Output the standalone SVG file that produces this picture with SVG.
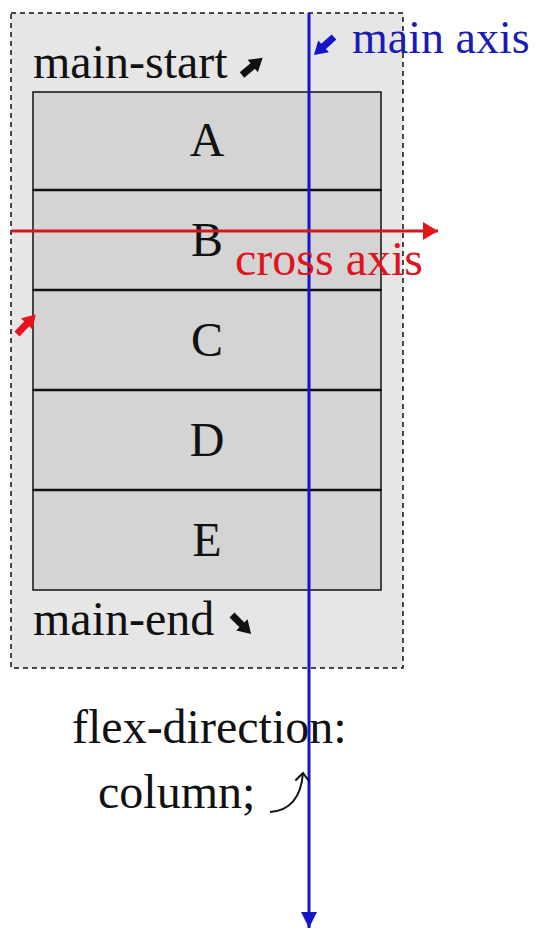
<svg xmlns="http://www.w3.org/2000/svg" width="541" height="932" viewBox="0 0 541 932">
  <style>
    .t { font-family: "Liberation Serif", "Times New Roman", serif; font-size: 48px; fill: #111; }
    .item { fill: #d4d4d4; stroke: #111; stroke-width: 1.5; }
    .sep { stroke: #111; stroke-width: 2.5; }
    .letter { text-anchor: middle; }
  </style>
  <defs>
    <marker id="blueHead" markerWidth="20" markerHeight="16" refX="16" refY="8" orient="auto" markerUnits="userSpaceOnUse">
      <path d="M0,0 L16,8 L0,16 Z" fill="#1414c8"/>
    </marker>
    <marker id="redHead" markerWidth="20" markerHeight="20" refX="15" refY="10" orient="auto" markerUnits="userSpaceOnUse">
      <path d="M0,1 L15,10 L0,19 Z" fill="#e8141c"/>
    </marker>
    <marker id="openHead" markerWidth="20" markerHeight="20" refX="10" refY="10" orient="auto" markerUnits="userSpaceOnUse">
      <path d="M2,3 L10,10 L2,17" fill="none" stroke="#111" stroke-width="2"/>
    </marker>
    <path id="icon" d="M0,-3.5 L14,-3.5 L14,-8 L27,0 L14,8 L14,3.5 L0,3.5 Z"/>
  </defs>

  <rect width="541" height="932" fill="#ffffff"/>

  <g id="container">
    <rect x="11" y="13" width="392" height="655" fill="#e6e6e6" stroke="#111" stroke-width="1.5" stroke-dasharray="5,4"/>
  </g>

  <g id="item-A">
    <rect class="item" x="33" y="92" width="348" height="98"/>
    <text class="t letter" x="207" y="156">A</text>
  </g>
  <g id="item-B">
    <rect class="item" x="33" y="190" width="348" height="100"/>
    <text class="t letter" x="207" y="256">B</text>
  </g>
  <g id="item-C">
    <rect class="item" x="33" y="290" width="348" height="100"/>
    <text class="t letter" x="207" y="356">C</text>
  </g>
  <g id="item-D">
    <rect class="item" x="33" y="390" width="348" height="100"/>
    <text class="t letter" x="207" y="456">D</text>
  </g>
  <g id="item-E">
    <rect class="item" x="33" y="490" width="348" height="100"/>
    <text class="t letter" x="207" y="556">E</text>
  </g>
  <g id="separators">
    <line class="sep" x1="33" y1="190" x2="381" y2="190"/>
    <line class="sep" x1="33" y1="290" x2="381" y2="290"/>
    <line class="sep" x1="33" y1="390" x2="381" y2="390"/>
    <line class="sep" x1="33" y1="490" x2="381" y2="490"/>
  </g>

  <g id="main-start">
    <text class="t" x="33" y="78">main-start</text>
    <use href="#icon" fill="#111" transform="translate(242,75) rotate(-40)"/>
  </g>
  <g id="main-end">
    <text class="t" x="33" y="635">main-end</text>
    <use href="#icon" fill="#111" transform="translate(232,615) rotate(45)"/>
  </g>
  <g id="flex-direction">
    <text class="t" x="72" y="743">flex-direction:</text>
    <text class="t" x="98" y="808">column;</text>
  </g>

  <g id="connectors">
    <line x1="309" y1="13" x2="309" y2="928" stroke="#1414c8" stroke-width="3" marker-end="url(#blueHead)"/>
    <line x1="11" y1="231" x2="438" y2="231" stroke="#d01a20" stroke-width="3" marker-end="url(#redHead)"/>
    <path d="M270,812 Q300,810 303,773" fill="none" stroke="#111" stroke-width="2" marker-end="url(#openHead)"/>
  </g>

  <g id="main-axis-label">
    <use href="#icon" fill="#1414c8" transform="translate(334,37) rotate(138)"/>
    <text class="t" x="352" y="53" style="fill:#1a1ab4;font-size:46px">main axis</text>
  </g>
  <g id="cross-axis-label">
    <text class="t" x="235" y="275" style="fill:#e0141c">cross axis</text>
    <use href="#icon" fill="#e8141c" transform="translate(17,334) rotate(-46)"/>
  </g>
</svg>
